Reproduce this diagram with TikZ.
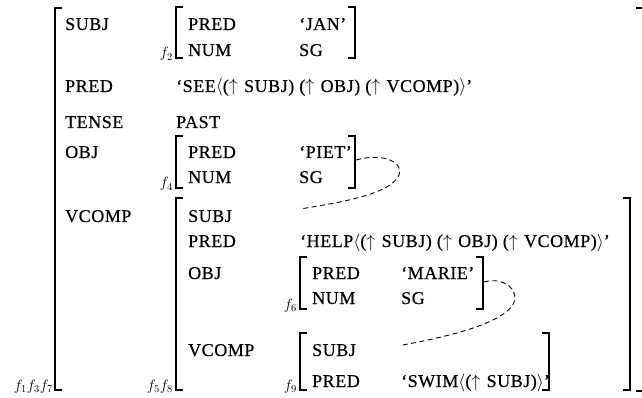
\documentclass[tikz,border=0pt]{standalone}
\usepackage{fix-cm}
\usepackage{fontspec}
\setmainfont{Liberation Serif}[LetterSpace=3,FakeBold=0.5]
\newcommand{\fsmain}{\fontsize{18}{21}\selectfont}
\newcommand{\fssub}{\fontsize{15}{17}\selectfont}
\newcommand{\up}{\ensuremath{\uparrow}\hspace{0.35em}}
\newcommand{\la}{\ensuremath{\langle}}
\newcommand{\ra}{\ensuremath{\rangle}}
\begin{document}
\begin{tikzpicture}[x=1pt,y=-1pt,
  lbl/.style={anchor=base west, inner sep=0pt, font=\fsmain},
  fname/.style={anchor=base east, inner sep=0pt, font=\fssub},
  brk/.style={line width=1.5pt},
  link/.style={line width=0.9pt, dash pattern=on 5pt off 3.5pt}]
\useasboundingbox (0,0) rectangle (642,398);

% ---- outer f-structure (f1 f3 f7) ----
\draw[brk] (62,8) -- (55,8) -- (55,390) -- (62,390);
\draw[brk] (636,8) -- (645,8) -- (645,391) -- (636,391);
\node[fname] (n137) at (53,390) {$f_1f_3f_7$};

\node[lbl] (aSubj)  at (65,30)  {SUBJ};
\node[lbl] (aPred)  at (65,92)  {PRED};
\node[lbl] (aTense) at (65,128) {TENSE};
\node[lbl] (aObj)   at (65,158) {OBJ};
\node[lbl] (aVcomp) at (65,222) {VCOMP};

% SUBJ value (f2)
\draw[brk] (183,7) -- (176,7) -- (176,58) -- (183,58);
\draw[brk] (348,7) -- (355,7) -- (355,58) -- (348,58);
\node[fname] (n2) at (173,58) {$f_2$};
\node[lbl] (f2pred) at (188,30) {PRED};
\node[lbl] (f2num)  at (188,56) {NUM};
\node[lbl] (f2pv)   at (299,30) {`JAN'};
\node[lbl] (f2nv)   at (299,56) {SG};

% PRED and TENSE values
\node[lbl] (vSee)  at (176,92)  {`SEE\la(\up SUBJ) (\up OBJ) (\up VCOMP)\ra'};
\node[lbl] (vPast) at (176,128) {PAST};

% OBJ value (f4)
\draw[brk] (183,136) -- (176,136) -- (176,188) -- (183,188);
\draw[brk] (348,136) -- (355,136) -- (355,188) -- (348,188);
\coordinate (f4r) at (356,160);
\node[fname] (n4) at (173,188) {$f_4$};
\node[lbl] (f4pred) at (188,158) {PRED};
\node[lbl] (f4num)  at (188,183) {NUM};
\node[lbl] (f4pv)   at (299,158) {`PIET'};
\node[lbl] (f4nv)   at (299,183) {SG};

% ---- VCOMP value (f5 f8) ----
\draw[brk] (183,198) -- (176,198) -- (176,390) -- (183,390);
\draw[brk] (623,198) -- (630,198) -- (630,390) -- (623,390);
\node[fname] (n58) at (173,390) {$f_5f_8$};
\node[lbl] (bSubj)  at (188,222) {SUBJ};
\node[lbl] (bPred)  at (188,247) {PRED};
\node[lbl] (bObj)   at (188,279) {OBJ};
\node[lbl] (bVcomp) at (188,356) {VCOMP};
\coordinate (bSubjv) at (300,209);
\node[lbl] (vHelp) at (300,247) {`HELP\la(\up SUBJ) (\up OBJ) (\up VCOMP)\ra'};

% OBJ value (f6)
\draw[brk] (307,257) -- (300,257) -- (300,309) -- (307,309);
\draw[brk] (476,257) -- (483,257) -- (483,309) -- (476,309);
\coordinate (f6r) at (484,282);
\node[fname] (n6) at (297,309) {$f_6$};
\node[lbl] (f6pred) at (312,279) {PRED};
\node[lbl] (f6num)  at (312,304) {NUM};
\node[lbl] (f6pv)   at (401,279) {`MARIE'};
\node[lbl] (f6nv)   at (401,304) {SG};

% VCOMP value (f9)
\draw[brk] (307,333) -- (300,333) -- (300,390) -- (307,390);
\draw[brk] (542,333) -- (549,333) -- (549,390) -- (542,390);
\node[fname] (n9) at (297,390) {$f_9$};
\node[lbl] (f9subj) at (312,356) {SUBJ};
\node[lbl] (f9pred) at (312,387) {PRED};
\coordinate (f9subjv) at (403,345);
\node[lbl] (f9pv) at (401,387) {`SWIM\la(\up SUBJ)\ra'};

% structure-sharing links
\draw[link] (f4r) .. controls (384,152) and (406,163) .. (398,177)
                  .. controls (387,196) and (330,204) .. (bSubjv);
\draw[link] (f6r) .. controls (505,276) and (522,292) .. (512,306)
                  .. controls (497,326) and (440,338) .. (f9subjv);
\end{tikzpicture}
\end{document}
